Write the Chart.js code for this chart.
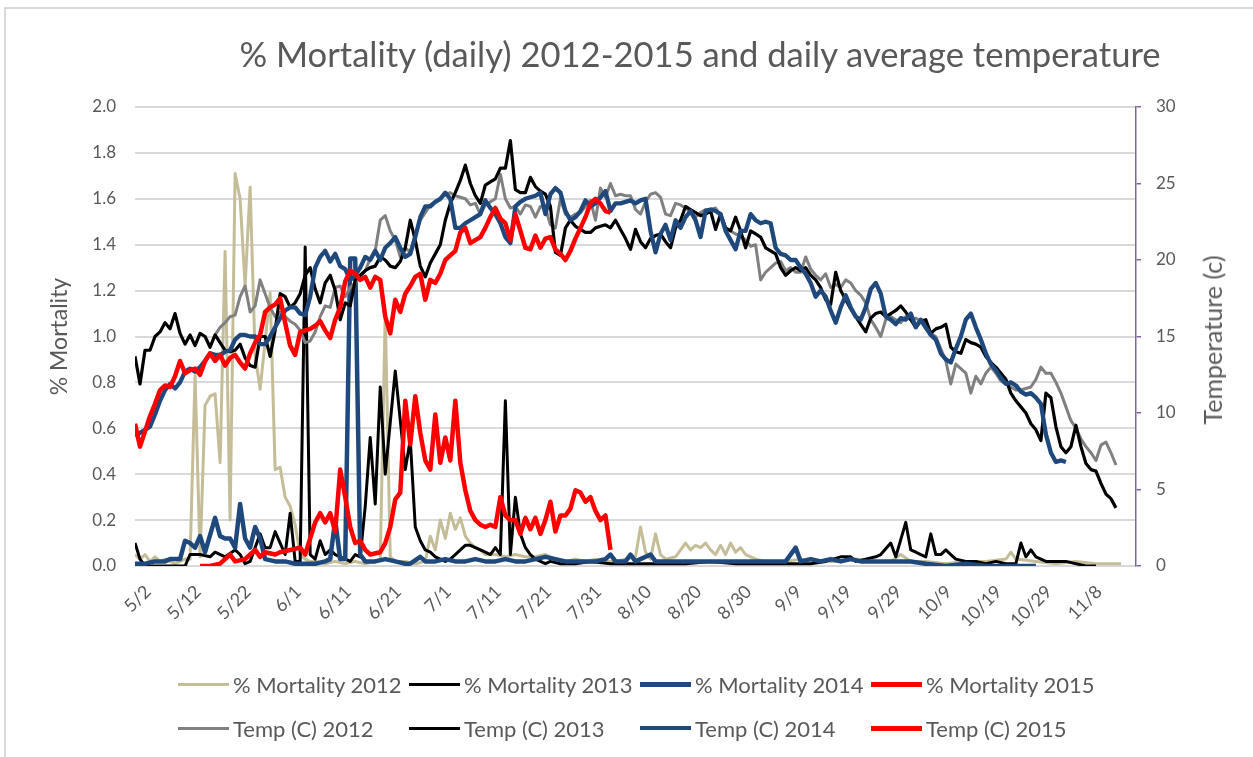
<!DOCTYPE html>
<html>
<head>
<meta charset="utf-8">
<script src="https://cdn.jsdelivr.net/npm/chart.js@4.4.0/dist/chart.umd.min.js"></script>
<style>
  html, body { margin: 0; padding: 0; background: #fff; overflow: hidden; }
  #wrap { position: relative; width: 1253px; height: 757px; overflow: hidden; font-family: Lato, sans-serif; color: #595959; }
  #frame { position: absolute; left: 4px; top: 7px; width: 1400px; height: 900px; border: 2px solid #d9d9d9; }
  #c { position: absolute; left: 0; top: 0; }
  #title { position: absolute; left: 0; top: 33px; width: 1400px; text-align: center; font-size: 34.6px; white-space: nowrap; }
  #rightTitle { position: absolute; left: 1212px; top: 340px; transform: translate(-50%, -50%) rotate(-90deg); font-size: 25px; white-space: nowrap; }
  #legend { position: absolute; left: 178px; top: 662px; font-size: 22px; }
  .row { display: flex; height: 44px; align-items: center; }
  .item { width: 231px; display: flex; align-items: center; }
  .swatch { width: 51px; margin-right: 4px; }
</style>
</head>
<body>
<div id="wrap">
  <div id="frame"></div>
  <canvas id="c" width="1253" height="757"></canvas>
  <div id="title">% Mortality (daily) 2012-2015 and daily average temperature</div>
  <div id="rightTitle">Temperature (c)</div>
  <div id="legend"></div>
</div>
<script>
// x = day number, 0 = 5/2, one tick label every 10 days
const tickLabels = ["5/2", "5/12", "5/22", "6/1", "6/11", "6/21", "7/1", "7/11", "7/21", "7/31",
  "8/10", "8/20", "8/30", "9/9", "9/19", "9/29", "10/9", "10/19", "10/29", "11/8"];

// % mortality, [day, value]
const mort2012 = [[0,0.05],[1,0.03],[2,0.05],[3,0.02],[4,0.04],[5,0.02],[6,0.03],[7,0.02],[8,0.01],[9,0.02],[10,0.03],
  [11,0.03],[12,0.83],[13,0.04],[14,0.7],[15,0.74],[16,0.75],[17,0.45],[18,1.37],[19,0.2],[20,1.71],[21,1.6],[22,1.22],
  [23,1.65],[24,0.92],[25,0.77],[26,0.98],[27,1.19],[28,0.42],[29,0.43],[30,0.3],[31,0.26],[32,0.18],[33,0.05],[34,0.03],
  [35,0.02],[36,0.02],[38,0.01],[40,0.02],[42,0.01],[44,0.02],[46,0.01],[48,0.02],[49,0.03],[50,1.1],[51,0.04],[52,0.02],
  [54,0.02],[56,0.01],[58,0.02],[59,0.13],[60,0.07],[61,0.2],[62,0.12],[63,0.23],[64,0.16],[65,0.21],[66,0.13],[67,0.1],
  [68,0.08],[69,0.07],[70,0.05],[72,0.05],[74,0.04],[76,0.05],[78,0.04],[80,0.04],[82,0.05],[84,0.03],[86,0.02],[88,0.03],
  [90,0.02],[92,0.03],[94,0.02],[96,0.02],[98,0.03],[100,0.04],[101,0.17],[102,0.06],[103,0.03],[104,0.14],[105,0.05],
  [106,0.03],[108,0.04],[110,0.1],[111,0.07],[112,0.09],[113,0.08],[114,0.1],[115,0.07],[116,0.05],[117,0.09],[118,0.05],
  [119,0.1],[120,0.06],[121,0.08],[122,0.05],[124,0.03],[126,0.02],[128,0.02],[130,0.02],[133,0.03],[136,0.02],[140,0.02],
  [144,0.03],[148,0.02],[151,0.02],[153,0.05],[155,0.02],[158,0.02],[162,0.01],[166,0.02],[170,0.02],[174,0.03],[175,0.06],
  [176,0.03],[180,0.02],[184,0.01],[188,0.02],[192,0.01],[197,0.01]];

const mort2013 = [[0,0.1],[1,0.03],[2,0],[4,0],[6,0],[8,0],[10,0],[11,0.05],[13,0.05],[15,0.04],[16,0.06],[18,0.04],
  [20,0.07],[21,0.05],[22,0.01],[23,0.02],[25,0.14],[26,0.08],[27,0.08],[28,0.15],[29,0.1],[30,0.05],[31,0.23],[32,0.02],
  [33,0.02],[34,1.39],[35,0.05],[36,0.03],[37,0.11],[38,0.05],[39,0.07],[40,0.05],[41,0.04],[42,0.03],[43,0.02],[44,0.05],
  [45,0.04],[46,0.26],[47,0.56],[48,0.27],[49,0.78],[50,0.4],[52,0.85],[54,0.42],[55,0.55],[56,0.17],[57,0.11],[58,0.07],
  [59,0.06],[60,0.04],[61,0.03],[62,0.02],[63,0.03],[64,0.05],[65,0.07],[66,0.09],[67,0.09],[68,0.08],[69,0.07],[70,0.06],
  [71,0.05],[72,0.08],[73,0.05],[74,0.72],[75,0.05],[76,0.3],[77,0.14],[78,0.08],[79,0.05],[80,0.03],[81,0.02],[82,0.01],
  [83,0.02],[85,0.01],[88,0.01],[91,0.02],[95,0.01],[100,0.01],[105,0.01],[110,0.01],[115,0.02],[120,0.01],[125,0.01],
  [130,0.01],[135,0.01],[138,0.02],[141,0.04],[143,0.04],[144,0.02],[146,0.03],[148,0.04],[149,0.05],[151,0.1],[152,0.04],
  [154,0.19],[155,0.07],[156,0.06],[157,0.05],[158,0.04],[159,0.14],[160,0.05],[161,0.05],[162,0.07],[163,0.05],[164,0.03],
  [166,0.02],[168,0.02],[170,0.01],[172,0.02],[174,0.01],[176,0.01],[177,0.1],[178,0.04],[179,0.07],[180,0.04],[182,0.02],
  [184,0.02],[186,0.02],[188,0.01],[190,0],[192,0]];

const mort2014 = [[0,0.01],[2,0.01],[4,0.02],[6,0.02],[7,0.03],[9,0.03],[10,0.11],[11,0.1],[12,0.08],[13,0.13],[14,0.06],
  [16,0.21],[17,0.13],[18,0.12],[19,0.12],[20,0.08],[21,0.27],[22,0.12],[23,0.08],[24,0.17],[25,0.12],[26,0.03],[28,0.02],
  [30,0.02],[32,0.01],[34,0.01],[36,0.01],[38,0.02],[39,0.03],[40,0.2],[41,0.03],[42,0.03],[43,1.34],[44,1.34],[45,0.05],
  [46,0.02],[48,0.02],[50,0.03],[52,0.02],[54,0.01],[55,0.01],[57,0.04],[58,0.02],[60,0.02],[62,0.03],[64,0.02],[66,0.02],
  [68,0.03],[70,0.02],[72,0.02],[74,0.03],[76,0.02],[78,0.02],[80,0.03],[82,0.04],[84,0.03],[86,0.02],[88,0.02],[90,0.02],
  [92,0.02],[94,0.03],[95,0.05],[96,0.02],[98,0.02],[99,0.05],[100,0.02],[103,0.05],[104,0.02],[106,0.02],[110,0.02],
  [115,0.02],[120,0.02],[125,0.02],[130,0.02],[132,0.08],[133,0.02],[135,0.03],[137,0.02],[139,0.03],[141,0.02],[143,0.03],
  [145,0.02],[150,0.02],[155,0.02],[158,0.01],[162,0],[166,0.01],[170,0],[175,0],[180,0]];

const mort2015 = [[13,0],[15,0],[17,0.01],[19,0.05],[20,0.02],[22,0.03],[23,0.05],[24,0.07],[25,0.04],[26,0.06],[28,0.05],
  [29,0.06],[31,0.07],[33,0.08],[34,0.05],[36,0.19],[37,0.23],[38,0.19],[39,0.23],[40,0.15],[41,0.42],[42,0.3],[43,0.17],
  [44,0.1],[45,0.11],[46,0.07],[47,0.05],[49,0.06],[50,0.1],[51,0.17],[52,0.29],[53,0.32],[54,0.72],[55,0.53],[56,0.74],
  [57,0.58],[58,0.46],[59,0.42],[60,0.66],[61,0.45],[62,0.56],[63,0.46],[64,0.72],[65,0.45],[66,0.33],[67,0.24],[68,0.2],
  [69,0.18],[70,0.17],[71,0.18],[72,0.17],[73,0.3],[74,0.22],[75,0.2],[76,0.2],[77,0.14],[78,0.21],[79,0.16],[80,0.21],
  [81,0.14],[82,0.2],[83,0.28],[84,0.15],[85,0.22],[86,0.22],[87,0.25],[88,0.33],[89,0.32],[90,0.28],[91,0.3],[92,0.24],
  [93,0.2],[94,0.22],[95,0.07]];

// daily average temperature (C), one value per day from the start day
const temp2012Start = 16;
const temp2012 = [15.1,15.6,15.9,16.3,16.4,17.6,18.3,16.6,17.0,18.7,17.8,16.9,16.3,
  16.6,16.3,16.0,15.8,15.4,14.6,14.7,15.3,16.3,17.0,16.9,18.2,
  18.3,17.6,18.2,18.5,18.9,19.3,20.1,20.6,22.6,22.9,21.9,21.3,20.2,20.8,20.5,21.7,22.6,23.1,23.6,23.8,
  24.0,24.3,24.4,24.2,24.1,24.0,23.6,23.7,23.0,23.6,23.8,24.0,25.6,24.0,23.4,23.5,23.0,23.6,23.5,22.8,
  23.5,23.4,22.3,22.1,24.0,23.0,22.8,23.0,23.1,23.5,23.9,22.6,24.7,24.1,25.0,24.2,24.3,24.2,24.2,23.3,
  23.0,23.8,24.3,24.4,24.1,23.0,22.9,23.7,23.6,23.4,23.1,22.8,23.1,23.3,23.3,23.4,22.9,22.1,21.9,21.7,
  21.6,21.3,20.9,21.0,18.7,19.2,19.5,19.8,19.9,19.3,19.5,19.2,19.2,20.2,19.4,19.0,18.7,19.1,18.2,18.4,
  18.2,18.7,18.5,18.0,17.7,17.2,16.1,15.6,15.0,16.1,16.3,16.1,15.9,16.3,16.1,16.2,16.0,15.5,15.2,15.0,
  14.2,13.4,11.9,13.2,12.9,12.6,11.3,12.4,11.9,12.6,13.0,12.6,12.1,11.9,11.7,11.5,11.5,11.6,11.7,12.2,
  13.0,12.6,12.6,12.0,11.3,10.4,9.5,9.0,8.3,7.8,7.4,6.9,7.9,8.1,7.4,6.6];

const temp2013Start = 0;
const temp2013 = [13.7,11.9,14.1,14.1,15.0,15.3,15.9,15.5,16.5,15.2,
  14.5,15.1,14.4,15.2,15.0,14.3,15.1,14.6,14.1,14.0,
  14.1,14.5,13.6,13.1,13.0,15.0,15.0,13.7,15.4,17.8,
  17.6,16.9,17.2,17.8,19.0,19.5,18.1,17.2,18.5,19.0,
  18.0,16.1,17.2,17.0,18.7,19.0,19.3,19.5,19.6,20.2,
  20.0,19.6,19.5,19.9,20.8,22.6,21.3,19.6,18.9,19.8,
  20.4,21.0,22.6,23.7,24.4,25.2,26.2,25.0,24.2,23.7,
  24.9,25.1,25.3,26.0,26.0,27.8,24.6,24.4,24.4,25.4,
  24.8,24.5,24.3,23.5,20.5,20.3,22.1,22.6,22.2,22.0,
  21.8,21.8,22.1,22.2,22.3,22.1,22.6,22.0,21.4,20.7,
  22.0,21.2,20.8,21.4,21.6,21.7,21.2,20.8,22.1,22.6,
  23.5,23.3,23.1,22.9,23.0,23.2,22.0,23.0,22.1,21.9,
  22.8,21.9,20.8,21.9,21.7,21.5,20.8,20.6,20.4,19.5,
  19.0,19.3,19.5,19.3,19.5,19.0,18.7,18.2,17.4,17.1,
  19.2,18.0,17.4,16.8,16.3,15.8,15.3,16.2,16.5,16.6,
  16.3,16.5,16.7,17.0,16.6,16.1,15.6,16.0,16.1,15.2,
  15.5,15.6,15.8,14.3,14.0,13.9,14.8,14.6,14.5,14.3,
  13.7,13.3,13.0,12.6,12.2,11.3,10.8,10.4,10.0,9.3,
  8.9,8.2,11.3,11.0,9.1,7.8,7.4,7.8,9.2,7.8,
  6.7,6.3,6.2,5.4,4.7,4.4,3.8];

const temp2014Start = 0;
const temp2014 = [8.5,8.7,8.9,9.1,9.9,10.8,11.5,11.9,11.6,12.0,
  12.7,12.9,12.7,13.0,13.4,13.9,13.8,13.8,14.0,14.1,
  14.8,15.1,15.1,15.0,15.0,14.5,14.5,15.0,15.6,16.2,
  16.7,16.9,16.9,16.5,16.4,17.6,19.5,20.2,20.6,19.9,
  20.4,19.6,19.4,18.7,19.0,19.5,20.2,20.0,20.6,20.0,
  20.8,21.1,21.5,20.8,20.2,20.4,21.5,22.8,23.5,23.5,
  23.8,24.0,24.4,24.0,22.1,22.1,22.4,22.6,22.8,23.0,
  23.9,23.4,23.0,22.4,21.5,21.1,23.5,23.8,24.0,24.1,
  24.2,24.4,23.0,24.3,24.7,24.4,23.2,22.6,22.8,23.2,
  23.9,23.5,23.7,24.1,24.5,23.2,23.7,23.7,23.8,23.9,
  23.7,23.9,24.0,21.9,20.5,21.7,22.3,21.3,22.6,22.1,
  22.8,23.2,22.6,21.5,23.2,23.3,23.2,23.0,21.9,21.3,
  20.7,21.9,21.9,23.0,22.6,22.4,22.5,22.4,20.8,20.4,
  20.3,20.0,20.0,19.5,19.1,18.5,17.6,18.0,17.6,16.7,
  15.9,16.9,17.7,16.9,16.3,16.1,16.9,18.1,18.5,17.8,
  16.3,16.1,15.8,16.2,16.1,16.5,15.6,16.1,15.6,15.1,
  14.8,13.9,13.5,13.3,14.2,15.0,16.1,16.5,15.6,14.8,
  13.9,13.2,12.8,12.3,11.9,12.0,11.8,11.4,11.2,11.3,
  11.0,10.6,8.6,7.4,6.8,6.9,6.8];

const temp2015Start = 0;
const temp2015 = [9.3,7.8,8.8,9.8,10.6,11.5,11.8,11.7,12.4,13.4,
  12.6,12.8,12.9,12.5,13.4,13.9,13.4,13.8,13.1,13.6,
  13.8,13.3,12.9,13.9,14.6,15.1,16.6,16.9,17.1,17.5,
  15.9,14.4,13.8,15.3,15.4,15.5,15.7,16.0,15.4,14.9,
  16.1,16.9,18.6,19.3,19.1,18.7,18.9,18.2,18.9,18.7,
  16.3,15.2,17.4,16.6,17.8,18.3,18.9,19.1,17.4,18.7,
  18.5,19.1,20.0,20.3,20.6,21.8,22.1,21.1,21.3,21.5,
  22.1,22.8,23.4,22.7,22.4,21.3,23.0,21.9,20.8,20.7,
  21.6,20.8,21.4,21.5,20.7,20.4,20.0,20.6,21.4,22.1,
  22.8,23.7,24.0,23.7,23.2,23.1];

const pairs = arr => arr.map(p => ({ x: p[0], y: p[1] }));
const daily = (start, arr) => arr.map((v, i) => ({ x: start + i, y: v }));

const textColor = "#595959";
const purple = "#8064a2";
Chart.defaults.font.family = "Lato";
Chart.defaults.color = textColor;

const datasets = [
  { label: "% Mortality 2012", data: pairs(mort2012), borderColor: "#c4bd97", borderWidth: 3, yAxisID: "y", order: 8 },
  { label: "% Mortality 2013", data: pairs(mort2013), borderColor: "#000000", borderWidth: 3, yAxisID: "y", order: 7 },
  { label: "% Mortality 2014", data: pairs(mort2014), borderColor: "#1f497d", borderWidth: 4.5, yAxisID: "y", order: 6 },
  { label: "% Mortality 2015", data: pairs(mort2015), borderColor: "#ff0000", borderWidth: 4.5, yAxisID: "y", order: 5 },
  { label: "Temp (C) 2012", data: daily(temp2012Start, temp2012), borderColor: "#808080", borderWidth: 3, yAxisID: "y1", order: 4 },
  { label: "Temp (C) 2013", data: daily(temp2013Start, temp2013), borderColor: "#000000", borderWidth: 3.2, yAxisID: "y1", order: 3 },
  { label: "Temp (C) 2014", data: daily(temp2014Start, temp2014), borderColor: "#1f497d", borderWidth: 4.3, yAxisID: "y1", order: 2 },
  { label: "Temp (C) 2015", data: daily(temp2015Start, temp2015), borderColor: "#ff0000", borderWidth: 4.5, yAxisID: "y1", order: 1 },
];
datasets.forEach(d => {
  d.pointRadius = 0;
  d.tension = 0;
  d.fill = false;
  d.borderJoinStyle = "round";
});

const config = {
  type: "line",
  data: { datasets: datasets },
  options: {
    responsive: false,
    animation: false,
    devicePixelRatio: 1,
    layout: { padding: { left: 40, right: 60, top: 107, bottom: 131 } },
    plugins: { legend: { display: false }, tooltip: { enabled: false } },
    scales: {
      x: {
        type: "linear",
        min: 0,
        max: 200,
        grid: { display: false },
        border: { display: false },
        ticks: {
          stepSize: 10,
          autoSkip: false,
          minRotation: 45,
          maxRotation: 45,
          padding: 7,
          labelOffset: 13,
          font: { size: 18 },
          callback: v => tickLabels[v / 10] || "",
        },
        afterFit: s => { s.height = 60; },
      },
      y: {
        position: "left",
        min: 0,
        max: 2,
        grid: { color: "#d9d9d9", lineWidth: 2, drawTicks: false },
        border: { display: false },
        ticks: { stepSize: 0.2, padding: 19, font: { size: 17 }, callback: v => v.toFixed(1) },
        title: { display: true, text: "% Mortality", font: { size: 23 }, padding: { top: 6, bottom: 0 } },
        afterFit: s => { s.width = 95; },
      },
      y1: {
        position: "right",
        min: 0,
        max: 30,
        grid: { drawOnChartArea: false, drawTicks: true, tickLength: 5, color: purple, tickColor: purple, lineWidth: 1.5 },
        border: { display: true, color: purple, width: 1.5 },
        ticks: { stepSize: 5, padding: 15, font: { size: 17 } },
        afterFit: s => { s.width = 57; },
      },
    },
  },
};

const myChart = new Chart(document.getElementById("c"), config);

// legend laid out in a 4 x 2 grid like the original
const legend = document.getElementById("legend");
for (let r = 0; r < 2; r++) {
  const row = document.createElement("div");
  row.className = "row";
  for (let i = r * 4; i < r * 4 + 4; i++) {
    const ds = datasets[i];
    const item = document.createElement("div");
    item.className = "item";
    const sw = document.createElement("span");
    sw.className = "swatch";
    sw.style.borderTop = Math.round(ds.borderWidth) + "px solid " + ds.borderColor;
    item.appendChild(sw);
    const txt = document.createElement("span");
    txt.innerText = ds.label;
    item.appendChild(txt);
    row.appendChild(item);
  }
  legend.appendChild(row);
}
</script>
</body>
</html>
